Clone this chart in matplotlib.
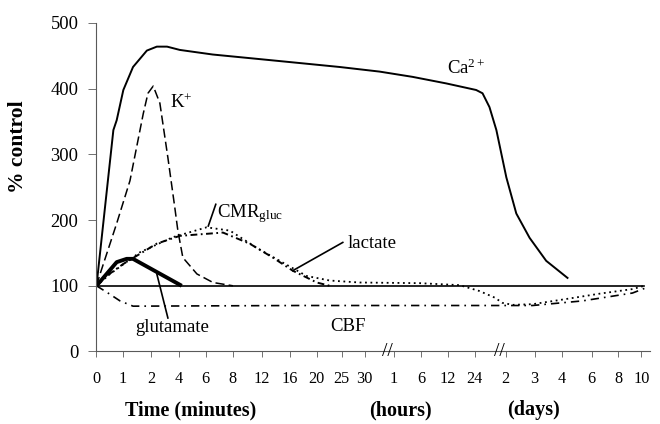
import matplotlib
matplotlib.use('Agg')
import matplotlib.pyplot as plt

plt.rcParams['font.family'] = ['Liberation Serif', 'DejaVu Serif']
plt.rcParams['mathtext.fontset'] = 'custom'
plt.rcParams['mathtext.rm'] = 'Liberation Serif'
plt.rcParams['mathtext.it'] = 'Liberation Serif:italic'

# broken time axis: positions of the tick labels along the axis
tick_pos = [0, 0.96, 1.97, 2.98, 3.95, 4.93, 5.97, 6.99, 7.96, 8.86, 9.69,
            10.74, 11.72, 12.69, 13.66, 14.78, 15.83, 16.81, 17.89, 18.86, 19.69]
tick_labels = ['0', '1', '2', '4', '6', '8', '12', '16', '20', '25', '30',
               '1', '6', '12', '24', '2', '3', '4', '6', '8', '10']
break_pos = [10.5, 14.55]

ca_t = [0, 0.61, 0.73, 0.97, 1.32, 1.82, 2.18, 2.55, 3.01, 4.2, 5.9, 7.35,
        8.79, 10.23, 11.42, 12.64, 13.72, 13.95, 14.2, 14.45, 14.81, 15.17,
        15.65, 16.25, 17.02]
ca_v = [100, 337, 352, 398, 433, 458, 464, 464, 459, 452, 445, 439,
        433, 426, 418, 408, 398, 393, 372, 337, 265, 210,
        173, 138, 112]

k_t = [0, 0.13, 0.73, 1.21, 1.69, 1.86, 2.05, 2.29, 2.58, 2.83, 2.94, 3.12,
       3.63, 4.21, 4.93]
k_v = [100, 118, 195, 260, 362, 393, 404, 378, 295, 219, 184, 143,
       118, 105, 100]

glu_t = [0, 0.73, 1.09, 1.32, 3.08]
glu_v = [100, 136, 141, 141, 100]

lac_t = [0, 0.49, 1.57, 2.76, 3.98, 4.82, 5.78, 6.62, 7.59, 8.43, 9.51,
         11.68, 13.12, 13.84, 14.39, 14.67, 15.04, 15.76, 16.99, 18.18,
         19.37, 19.8]
lac_v = [100, 118, 151, 174, 189, 184, 158, 138, 115, 108, 105,
         104, 101, 92, 82, 74, 71, 72, 80, 88,
         95, 100]

cmr_t = [0, 0.37, 0.96, 2.17, 3.01, 4.57, 5.54, 6.37, 7.09, 7.96, 8.43]
cmr_v = [100, 115, 133, 164, 176, 181, 164, 143, 123, 105, 100]

cbf_t = [0, 0.49, 0.85, 1.32, 7.35, 10.96, 15.29, 15.76, 17.56, 19.37, 19.8]
cbf_v = [100, 87, 77, 69, 70, 70, 70, 70, 77, 89, 96]

base_t = [0, 19.8]
base_v = [100, 100]

fig = plt.figure(figsize=(6.6, 4.24), dpi=100)
ax = fig.add_axes([0.1462, 0.171, 0.8386, 0.7748])

ax.plot(base_t, base_v, color='black', lw=1.2)
ax.plot(cbf_t, cbf_v, color='black', lw=1.2, dashes=(5, 3, 1, 3))
ax.plot(cmr_t, cmr_v, color='black', lw=1.4, dashes=(3.5, 1.8, 0.9, 1.8))
ax.plot(lac_t, lac_v, color='black', lw=1.3, dashes=(1, 2))
ax.plot(glu_t, glu_v, color='black', lw=2.8, solid_capstyle='butt')
ax.plot(k_t, k_v, color='black', lw=1.1, dashes=(6, 2.7))
ax.plot(ca_t, ca_v, color='black', lw=1.4)

# curve labels and pointers
txt = dict(fontsize=13.5, color='black')
ax.text(2.65, 378, r'K$^{+}$', ha='left', va='center', **txt)
ax.text(12.65, 431, r'Ca$^{2+}$', ha='left', va='center', **txt)
ax.text(4.35, 204, r'CMR$_{\mathrm{gluc}}$', ha='left', va='baseline', **txt)
ax.plot([4.31, 4.04], [224, 191], color='black', lw=1.2)
ax.text(9.08, 158, 'lactate', ha='left', va='baseline', **txt)
ax.plot([8.9, 7.09], [166, 123], color='black', lw=1.2)
ax.text(1.39, 30, 'glutamate', ha='left', va='baseline', **txt)
ax.plot([2.18, 2.58], [118, 51], color='black', lw=1.2)
ax.text(8.43, 31, 'CBF', ha='left', va='baseline', **txt)

for b in break_pos:
    ax.text(b, 0, '//', ha='center', va='center', fontsize=14,
            color='black', clip_on=False)

ax.set_xlim(0, 20.0)
ax.set_ylim(0, 500)
ax.set_xticks(tick_pos)
ax.set_xticklabels(tick_labels)
ax.set_yticks([0, 100, 200, 300, 400, 500])
ax.tick_params(axis='x', labelsize=11.7, length=4, width=0.6, pad=10,
               color='0.35')
ax.tick_params(axis='y', labelsize=13.3, length=6, width=0.6, pad=7,
               color='0.35')

for s in ['top', 'right']:
    ax.spines[s].set_visible(False)
for s in ['left', 'bottom']:
    ax.spines[s].set_color('0.35')
    ax.spines[s].set_linewidth(0.8)

bold = dict(fontsize=14.5, fontweight='bold', ha='center', va='center')
fig.text(191 / 660, 1 - 410 / 424, 'Time (minutes)', **bold)
fig.text(400 / 660, 1 - 410 / 424, '(hours)', **bold)
fig.text(533 / 660, 1 - 410 / 424, '(days)', **bold)
fig.text(18 / 660, 1 - 147 / 424, '% control', rotation=90,
         fontsize=15.5, fontweight='bold', ha='center', va='center')

fig.savefig('out.png', dpi=100)
